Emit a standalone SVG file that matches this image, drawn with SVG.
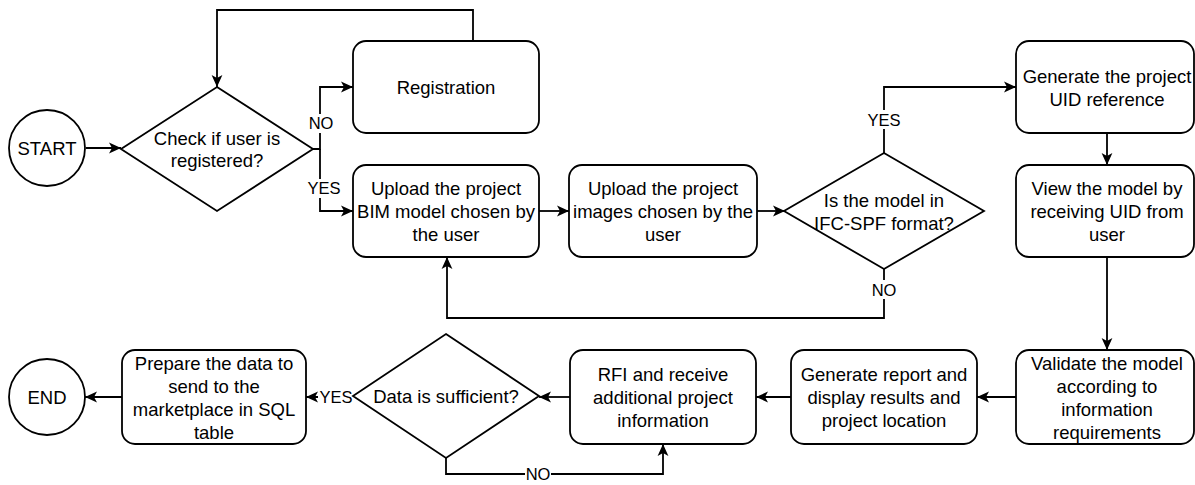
<svg xmlns="http://www.w3.org/2000/svg" width="1195" height="485" viewBox="0 0 1195 485">
<style>
.n{fill:#fff;stroke:#000;stroke-width:1.8}
.t{font-family:"Liberation Sans",Arial,sans-serif;font-size:18.5px;fill:#000;text-anchor:middle;dominant-baseline:central}
.l{font-family:"Liberation Sans",Arial,sans-serif;font-size:16.5px;fill:#000;text-anchor:middle;dominant-baseline:central}
.c{fill:none;stroke:#000;stroke-width:1.8}
.lb{fill:#fff;stroke:none}
</style>
<defs>
<marker id="ah" viewBox="0 0 10 10" refX="10" refY="5" markerWidth="12" markerHeight="12" orient="auto" markerUnits="userSpaceOnUse">
<path d="M0,0.5 L10,5 L0,9.5 L2.5,5 z" fill="#000"/>
</marker>
</defs>
<rect width="1195" height="485" fill="#fff"/>
<g id="connectors">
<path class="c" d="M86,148 L121,148" marker-end="url(#ah)"/>
<path class="c" d="M313,149 L320,149 L320,87 L353,87" marker-end="url(#ah)"/>
<path class="c" d="M320,149 L320,211 L353,211" marker-end="url(#ah)"/>
<path class="c" d="M473,41 L473,10 L217,10 L217,87" marker-end="url(#ah)"/>
<path class="c" d="M539,211 L569,211" marker-end="url(#ah)"/>
<path class="c" d="M757,211 L785,211" marker-end="url(#ah)"/>
<path class="c" d="M884,153 L884,87 L1016,87" marker-end="url(#ah)"/>
<path class="c" d="M884,269 L884,318 L447,318 L447,257" marker-end="url(#ah)"/>
<path class="c" d="M1107,133 L1107,165" marker-end="url(#ah)"/>
<path class="c" d="M1107,257 L1107,350" marker-end="url(#ah)"/>
<path class="c" d="M1016,397 L977,397" marker-end="url(#ah)"/>
<path class="c" d="M791,397 L756,397" marker-end="url(#ah)"/>
<path class="c" d="M570,397 L539,397" marker-end="url(#ah)"/>
<path class="c" d="M353,397 L306,397" marker-end="url(#ah)"/>
<path class="c" d="M446,458 L446,474 L663,474 L663,444" marker-end="url(#ah)"/>
<path class="c" d="M122,397 L85,397" marker-end="url(#ah)"/>
<rect class="lb" x="308" y="114" width="26" height="19"/>
<text class="l" x="321" y="123">NO</text>
<rect class="lb" x="306" y="179" width="36" height="19"/>
<text class="l" x="324" y="188">YES</text>
<rect class="lb" x="866" y="110" width="36" height="19"/>
<text class="l" x="884" y="120">YES</text>
<rect class="lb" x="871" y="280" width="26" height="19"/>
<text class="l" x="884" y="290">NO</text>
<rect class="lb" x="318" y="387" width="35" height="19"/>
<text class="l" x="336" y="397">YES</text>
<rect class="lb" x="525" y="464" width="26" height="19"/>
<text class="l" x="538" y="474">NO</text>
</g>
<g id="start">
<circle class="n" cx="47" cy="148" r="38"/>
<text class="t" x="47" y="148">START</text>
</g>
<g id="check-registered">
<polygon class="n" points="217,87 313,149 217,211 121,149"/>
<text class="t" x="217" y="138">Check if user is</text>
<text class="t" x="217" y="160">registered?</text>
</g>
<g id="registration">
<rect class="n" x="353" y="41" width="186" height="92" rx="13"/>
<text class="t" x="446" y="87">Registration</text>
</g>
<g id="upload-bim">
<rect class="n" x="353" y="165" width="186" height="92" rx="13"/>
<text class="t" x="446" y="188">Upload the project</text>
<text class="t" x="446" y="211">BIM model chosen by</text>
<text class="t" x="446" y="234">the user</text>
</g>
<g id="upload-images">
<rect class="n" x="569" y="165" width="188" height="92" rx="13"/>
<text class="t" x="663" y="188">Upload the project</text>
<text class="t" x="663" y="211">images chosen by the</text>
<text class="t" x="663" y="234">user</text>
</g>
<g id="ifc-check">
<polygon class="n" points="884,153 984,211 884,269 784,211"/>
<text class="t" x="884" y="200">Is the model in</text>
<text class="t" x="884" y="223">IFC-SPF format?</text>
</g>
<g id="generate-uid">
<rect class="n" x="1016" y="41" width="178" height="92" rx="13"/>
<text class="t" x="1107" y="76">Generate the project</text>
<text class="t" x="1107" y="99">UID reference</text>
</g>
<g id="view-model">
<rect class="n" x="1016" y="165" width="178" height="92" rx="13"/>
<text class="t" x="1107" y="188">View the model by</text>
<text class="t" x="1107" y="211">receiving UID from</text>
<text class="t" x="1107" y="234">user</text>
</g>
<g id="validate">
<rect class="n" x="1016" y="350" width="178" height="94" rx="13"/>
<text class="t" x="1107" y="363">Validate the model</text>
<text class="t" x="1107" y="386">according to</text>
<text class="t" x="1107" y="409">information</text>
<text class="t" x="1107" y="432">requirements</text>
</g>
<g id="generate-report">
<rect class="n" x="791" y="350" width="186" height="94" rx="13"/>
<text class="t" x="884" y="374">Generate report and</text>
<text class="t" x="884" y="397">display results and</text>
<text class="t" x="884" y="420">project location</text>
</g>
<g id="rfi">
<rect class="n" x="570" y="350" width="186" height="94" rx="13"/>
<text class="t" x="663" y="374">RFI and receive</text>
<text class="t" x="663" y="397">additional project</text>
<text class="t" x="663" y="420">information</text>
</g>
<g id="data-sufficient">
<polygon class="n" points="446,334 539,396 446,458 353,396"/>
<text class="t" x="446" y="396">Data is sufficient?</text>
</g>
<g id="prepare">
<rect class="n" x="122" y="350" width="184" height="94" rx="13"/>
<text class="t" x="214" y="363">Prepare the data to</text>
<text class="t" x="214" y="386">send to the</text>
<text class="t" x="214" y="409">marketplace in SQL</text>
<text class="t" x="214" y="432">table</text>
</g>
<g id="end">
<circle class="n" cx="47" cy="397" r="38"/>
<text class="t" x="47" y="397">END</text>
</g>
</svg>
